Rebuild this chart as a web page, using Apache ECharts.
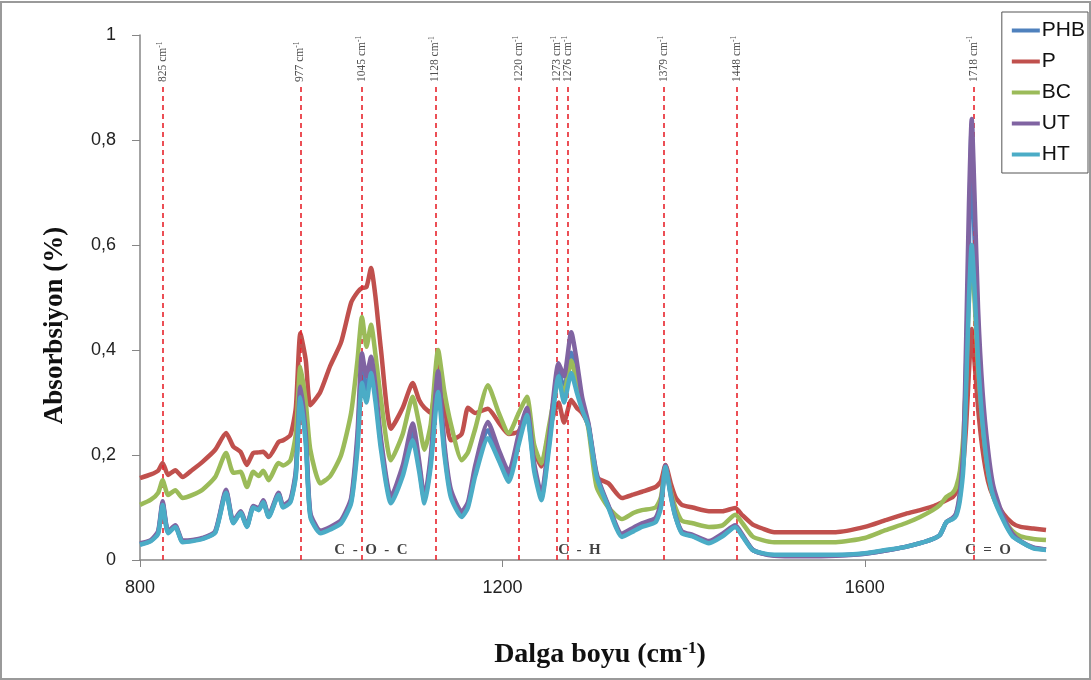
<!DOCTYPE html>
<html>
<head>
<meta charset="utf-8">
<script src="https://cdn.jsdelivr.net/npm/echarts@6/dist/echarts.min.js"></script>
<style>
html, body { margin: 0; padding: 0; background: #fff; }
#chart { width: 1091px; height: 680px; }
</style>
</head>
<body>
<div id="chart"></div>
<script>
// dalga sayısı (cm-1)
var wavenumber = [800, 812, 820, 825, 831, 839, 847, 858, 869, 883, 895, 903, 911, 918, 925, 931, 936, 942, 953, 958,
  966, 972, 977, 983, 988, 999, 1010, 1022, 1033, 1040, 1045, 1050, 1055, 1060, 1066, 1077, 1090, 1101, 1108, 1114,
  1121, 1129, 1136, 1143, 1155, 1162, 1170, 1184, 1196, 1207, 1218, 1227, 1235, 1243, 1252, 1262, 1268, 1276, 1282, 1288,
  1295, 1304, 1317, 1332, 1345, 1354, 1369, 1375, 1380, 1386, 1391, 1398, 1410, 1428, 1443, 1457, 1465, 1476, 1487, 1500,
  1530, 1568, 1600, 1623, 1645, 1661, 1675, 1683, 1690, 1697, 1701, 1705, 1709, 1712, 1715, 1718, 1721, 1725, 1730, 1736,
  1742, 1753, 1763, 1772, 1786, 1800];

var phb = [0.03, 0.037, 0.052, 0.108, 0.053, 0.064, 0.035, 0.037, 0.041, 0.053, 0.131, 0.071, 0.091, 0.064, 0.101, 0.096, 0.112, 0.083, 0.126, 0.102,
  0.112, 0.165, 0.32, 0.23, 0.086, 0.053, 0.06, 0.073, 0.112, 0.225, 0.365, 0.325, 0.37, 0.315, 0.22, 0.114, 0.17, 0.244, 0.18, 0.113,
  0.19, 0.34, 0.21, 0.127, 0.087, 0.105, 0.17, 0.247, 0.2, 0.158, 0.23, 0.283, 0.177, 0.119, 0.23, 0.362, 0.325, 0.395, 0.35, 0.298,
  0.257, 0.161, 0.102, 0.047, 0.058, 0.066, 0.076, 0.105, 0.178, 0.122, 0.083, 0.053, 0.046, 0.034, 0.047, 0.064, 0.046, 0.02, 0.012, 0.009,
  0.008, 0.009, 0.012, 0.018, 0.025, 0.032, 0.04, 0.048, 0.072, 0.079, 0.088, 0.122, 0.2, 0.38, 0.6, 0.83, 0.62, 0.43, 0.29, 0.19,
  0.13, 0.078, 0.047, 0.035, 0.023, 0.02];

var p = [0.156, 0.163, 0.17, 0.185, 0.162, 0.171, 0.158, 0.172, 0.187, 0.21, 0.242, 0.216, 0.206, 0.181, 0.204, 0.205, 0.206, 0.196, 0.225, 0.228,
  0.238, 0.29, 0.432, 0.38, 0.295, 0.32, 0.37, 0.415, 0.49, 0.51, 0.518, 0.52, 0.556, 0.5, 0.4, 0.25, 0.29, 0.337, 0.305, 0.29,
  0.28, 0.37, 0.3, 0.228, 0.24, 0.29, 0.28, 0.288, 0.262, 0.24, 0.245, 0.283, 0.21, 0.178, 0.25, 0.3, 0.262, 0.305, 0.29, 0.28,
  0.255, 0.158, 0.146, 0.118, 0.125, 0.13, 0.139, 0.15, 0.181, 0.145, 0.12, 0.105, 0.1, 0.093, 0.093, 0.099, 0.085, 0.068, 0.06, 0.053,
  0.053, 0.053, 0.063, 0.076, 0.088, 0.095, 0.102, 0.108, 0.114, 0.12, 0.13, 0.15, 0.19, 0.26, 0.36, 0.44, 0.38, 0.29, 0.21, 0.15,
  0.12, 0.088, 0.07, 0.063, 0.06, 0.057];

var bc = [0.105, 0.115, 0.128, 0.152, 0.124, 0.133, 0.118, 0.124, 0.134, 0.158, 0.204, 0.166, 0.168, 0.139, 0.168, 0.16, 0.17, 0.152, 0.185, 0.18,
  0.19, 0.24, 0.368, 0.3, 0.21, 0.146, 0.16, 0.2, 0.28, 0.38, 0.463, 0.406, 0.448, 0.39, 0.305, 0.19, 0.24, 0.311, 0.26, 0.21,
  0.26, 0.4, 0.32, 0.26, 0.19, 0.205, 0.25, 0.333, 0.28, 0.241, 0.28, 0.311, 0.22, 0.184, 0.26, 0.34, 0.32, 0.38, 0.34, 0.3,
  0.25, 0.139, 0.1, 0.078, 0.09, 0.095, 0.1, 0.12, 0.177, 0.13, 0.1, 0.075, 0.07, 0.063, 0.066, 0.086, 0.07, 0.045, 0.038, 0.034,
  0.034, 0.034, 0.042, 0.057, 0.07, 0.082, 0.095, 0.105, 0.12, 0.128, 0.14, 0.17, 0.24, 0.36, 0.5, 0.58, 0.5, 0.37, 0.26, 0.17,
  0.12, 0.08, 0.055, 0.045, 0.04, 0.038];

var ut = [0.032, 0.038, 0.055, 0.112, 0.055, 0.066, 0.037, 0.038, 0.042, 0.055, 0.134, 0.073, 0.093, 0.066, 0.103, 0.098, 0.114, 0.085, 0.128, 0.104,
  0.115, 0.17, 0.33, 0.24, 0.09, 0.056, 0.063, 0.076, 0.118, 0.24, 0.394, 0.35, 0.387, 0.33, 0.23, 0.12, 0.18, 0.26, 0.19, 0.118,
  0.2, 0.36, 0.22, 0.135, 0.092, 0.11, 0.18, 0.263, 0.21, 0.168, 0.24, 0.29, 0.185, 0.125, 0.24, 0.375, 0.35, 0.434, 0.38, 0.31,
  0.26, 0.165, 0.104, 0.05, 0.062, 0.07, 0.08, 0.11, 0.18, 0.125, 0.085, 0.055, 0.048, 0.036, 0.05, 0.066, 0.048, 0.02, 0.012, 0.008,
  0.007, 0.008, 0.012, 0.018, 0.025, 0.032, 0.04, 0.048, 0.072, 0.08, 0.09, 0.13, 0.22, 0.43, 0.68, 0.84, 0.7, 0.48, 0.32, 0.21,
  0.14, 0.082, 0.05, 0.036, 0.024, 0.02];

var ht = [0.029, 0.036, 0.05, 0.105, 0.051, 0.063, 0.034, 0.036, 0.04, 0.052, 0.128, 0.07, 0.09, 0.063, 0.1, 0.095, 0.11, 0.082, 0.124, 0.1,
  0.11, 0.16, 0.31, 0.22, 0.082, 0.051, 0.058, 0.07, 0.108, 0.21, 0.337, 0.3, 0.356, 0.3, 0.21, 0.108, 0.16, 0.228, 0.17, 0.108,
  0.18, 0.32, 0.2, 0.12, 0.082, 0.1, 0.16, 0.232, 0.19, 0.149, 0.22, 0.276, 0.17, 0.114, 0.22, 0.35, 0.3, 0.356, 0.32, 0.286,
  0.254, 0.158, 0.1, 0.044, 0.055, 0.063, 0.072, 0.1, 0.177, 0.12, 0.082, 0.051, 0.045, 0.032, 0.045, 0.063, 0.045, 0.019, 0.013, 0.01,
  0.01, 0.01, 0.013, 0.019, 0.025, 0.032, 0.04, 0.048, 0.072, 0.078, 0.085, 0.114, 0.18, 0.337, 0.5, 0.6, 0.52, 0.38, 0.26, 0.17,
  0.12, 0.075, 0.045, 0.035, 0.022, 0.019];

var seriesNames = ['PHB', 'P', 'BC', 'UT', 'HT'];
var seriesColors = ['#4f81bd', '#c0504d', '#9bbb59', '#8064a2', '#4bacc6'];
var seriesValues = [phb, p, bc, ut, ht];

var xTicks = [800, 1200, 1600];

// kesikli çizgiler ve etiketleri
var peakPos = [825, 977, 1045, 1126, 1218, 1260, 1272, 1378, 1459, 1720];
var peakText = ['825', '977', '1045', '1128', '1220', '1273', '1276', '1379', '1448', '1718'];
var peakTop = 0.905;

var bandNames = ['C  -  O  -  C', 'C  -  H', 'C  =  O'];
var bandPos = [1055, 1285, 1736];
var bandY = 0.019;

var mychart = echarts.init(document.getElementById('chart'));

function pairs(vals) {
    var arr = [];
    for (var i = 0; i < wavenumber.length; i++) {
        arr.push([wavenumber[i], vals[i]]);
    }
    return arr;
}

var series = [];
for (var i = 0; i < seriesNames.length; i++) {
    series.push({
        name: seriesNames[i],
        type: 'line',
        data: pairs(seriesValues[i]),
        smooth: 0.2,
        showSymbol: false,
        lineStyle: { width: 4.5, color: seriesColors[i] },
        itemStyle: { color: seriesColors[i] },
        z: 3 + i
    });
}

var markLines = [];
var peakPoints = [];
for (var j = 0; j < peakPos.length; j++) {
    markLines.push([{ coord: [peakPos[j], 0] }, { coord: [peakPos[j], peakTop] }]);
    peakPoints.push({ value: [peakPos[j], peakTop], name: peakText[j] });
}

// çizgiler + etiketleri
series.push({
    type: 'scatter',
    data: peakPoints,
    symbolSize: 0,
    silent: true,
    z: 10,
    label: {
        show: true,
        position: 'top',
        distance: 3,
        rotate: 90,
        align: 'left',
        verticalAlign: 'middle',
        formatter: function (d) { return '{a|' + d.name + ' cm}{s|-1}'; },
        rich: {
            a: { fontFamily: 'Liberation Serif', fontSize: 11.5, color: '#222' },
            s: { fontFamily: 'Liberation Serif', fontSize: 7.5, color: '#222', padding: [0, 0, 6, 0] }
        }
    },
    markLine: {
        silent: true,
        symbol: 'none',
        label: { show: false },
        lineStyle: { color: '#e8242c', type: [5, 4], width: 1.6 },
        data: markLines
    }
});

// bant adları
var bandPoints = [];
for (var k = 0; k < bandNames.length; k++) {
    bandPoints.push({ value: [bandPos[k], bandY], name: bandNames[k] });
}
series.push({
    type: 'scatter',
    data: bandPoints,
    symbolSize: 0,
    silent: true,
    z: 12,
    label: {
        show: true,
        position: 'inside',
        formatter: '{b}',
        fontFamily: 'Liberation Serif',
        fontWeight: 'bold',
        fontSize: 15,
        color: '#111'
    }
});

var option = {
    animation: false,
    backgroundColor: '#fff',
    graphic: [{
        type: 'rect',
        silent: true,
        shape: { x: 1, y: 2, width: 1089, height: 677 },
        style: { fill: 'none', stroke: '#9a9a9a', lineWidth: 2 }
    }],
    grid: { left: 140, right: 45, top: 35, bottom: 120 },
    legend: {
        data: seriesNames,
        orient: 'vertical',
        right: 3,
        top: 12,
        icon: 'rect',
        itemWidth: 28,
        itemHeight: 4,
        itemGap: 10,
        padding: [8, 3, 8, 10],
        borderColor: '#555',
        borderWidth: 1,
        backgroundColor: '#fff',
        textStyle: { fontFamily: 'Liberation Sans', fontSize: 21, color: '#111', padding: [0, 0, 0, -3] }
    },
    xAxis: {
        type: 'value',
        min: 800,
        max: 1800,
        interval: 400,
        name: 'Dalga boyu (cm{s|-1})',
        nameLocation: 'middle',
        nameGap: 80,
        nameTextStyle: {
            fontFamily: 'Liberation Serif', fontWeight: 'bold', fontSize: 28, color: '#111',
            padding: [0, 0, 0, 14],
            rich: { s: { fontFamily: 'Liberation Serif', fontWeight: 'bold', fontSize: 17, color: '#111', padding: [0, 0, 13, 0] } }
        },
        splitLine: { show: false },
        axisLine: { lineStyle: { color: '#868686', width: 1.5 } },
        axisTick: { length: 7, lineStyle: { color: '#868686' }, customValues: xTicks },
        axisLabel: {
            margin: 19, fontFamily: 'Liberation Sans', fontSize: 18, color: '#222',
            customValues: xTicks,
            formatter: function (v) { return String(v); }
        }
    },
    yAxis: {
        type: 'value',
        min: 0,
        max: 1,
        interval: 0.2,
        name: 'Absorbsiyon (%)',
        nameLocation: 'middle',
        nameGap: 71,
        nameRotate: 90,
        nameTextStyle: {
            fontFamily: 'Liberation Serif', fontWeight: 'bold', fontSize: 27, color: '#111',
            padding: [0, 56, 0, 0]
        },
        splitLine: { show: false },
        axisLine: { show: true, lineStyle: { color: '#868686', width: 1.5 } },
        axisTick: { show: true, length: 8, lineStyle: { color: '#868686' } },
        axisLabel: {
            margin: 24, fontFamily: 'Liberation Sans', fontSize: 18, color: '#222',
            formatter: function (v) { return String(Math.round(v * 10) / 10).replace('.', ','); }
        }
    },
    series: series
};
mychart.setOption(option);
</script>
</body>
</html>
